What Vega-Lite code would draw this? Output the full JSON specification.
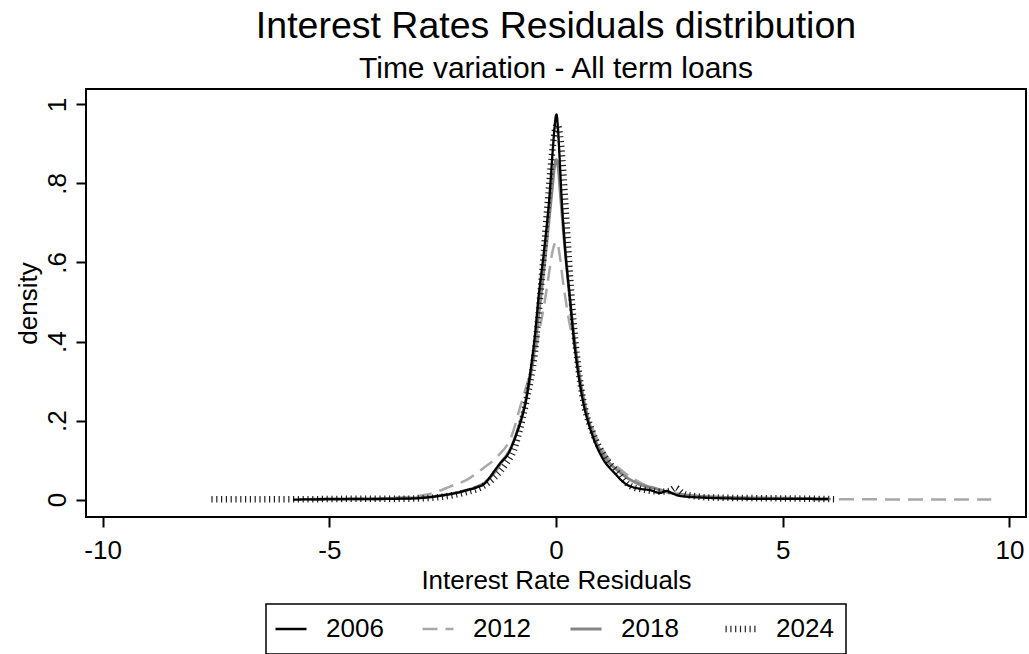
{
  "$schema": "https://vega.github.io/schema/vega-lite/v6.json",
  "width": 940,
  "height": 428,
  "autosize": {"type": "none"},
  "padding": {"left": 86, "top": 89, "right": 3, "bottom": 137},
  "background": "white",
  "title": {
    "text": "Interest Rates Residuals distribution",
    "subtitle": "Time variation - All term loans",
    "anchor": "middle",
    "font": "Liberation Sans",
    "subtitleFont": "Liberation Sans",
    "fontSize": 37.5,
    "subtitleFontSize": 30,
    "fontWeight": "normal",
    "color": "black",
    "subtitleColor": "black",
    "offset": 5,
    "subtitlePadding": 9
  },
  "data": {
    "values": [
      {"year": "2012", "x": -5.6, "d": 0.001},
      {"year": "2012", "x": -4.5, "d": 0.002},
      {"year": "2012", "x": -3.6, "d": 0.004},
      {"year": "2012", "x": -3.15, "d": 0.008},
      {"year": "2012", "x": -2.7, "d": 0.017},
      {"year": "2012", "x": -2.34, "d": 0.033},
      {"year": "2012", "x": -1.94, "d": 0.052},
      {"year": "2012", "x": -1.6, "d": 0.08},
      {"year": "2012", "x": -1.28, "d": 0.11},
      {"year": "2012", "x": -0.96, "d": 0.167},
      {"year": "2012", "x": -0.79, "d": 0.235},
      {"year": "2012", "x": -0.62, "d": 0.3},
      {"year": "2012", "x": -0.5, "d": 0.349},
      {"year": "2012", "x": -0.38, "d": 0.42},
      {"year": "2012", "x": -0.25, "d": 0.5},
      {"year": "2012", "x": -0.17, "d": 0.56},
      {"year": "2012", "x": -0.09, "d": 0.62},
      {"year": "2012", "x": -0.03, "d": 0.647},
      {"year": "2012", "x": 0.02, "d": 0.652},
      {"year": "2012", "x": 0.08, "d": 0.62},
      {"year": "2012", "x": 0.15, "d": 0.555},
      {"year": "2012", "x": 0.22, "d": 0.5},
      {"year": "2012", "x": 0.3, "d": 0.445},
      {"year": "2012", "x": 0.38, "d": 0.404},
      {"year": "2012", "x": 0.6, "d": 0.248},
      {"year": "2012", "x": 0.82, "d": 0.176},
      {"year": "2012", "x": 1.08, "d": 0.117},
      {"year": "2012", "x": 1.49, "d": 0.07},
      {"year": "2012", "x": 1.89, "d": 0.041},
      {"year": "2012", "x": 2.48, "d": 0.019},
      {"year": "2012", "x": 3.0, "d": 0.01},
      {"year": "2012", "x": 3.6, "d": 0.006},
      {"year": "2012", "x": 4.5, "d": 0.003},
      {"year": "2012", "x": 5.5, "d": 0.002},
      {"year": "2012", "x": 6.5, "d": 0.001},
      {"year": "2012", "x": 7.5, "d": 0.0005},
      {"year": "2012", "x": 8.5, "d": 0.0003},
      {"year": "2012", "x": 9.6, "d": 0.0002},

      {"year": "2018", "x": -5.4, "d": 0.001},
      {"year": "2018", "x": -4.5, "d": 0.002},
      {"year": "2018", "x": -3.6, "d": 0.003},
      {"year": "2018", "x": -3.0, "d": 0.005},
      {"year": "2018", "x": -2.5, "d": 0.011},
      {"year": "2018", "x": -2.1, "d": 0.02},
      {"year": "2018", "x": -1.8, "d": 0.03},
      {"year": "2018", "x": -1.55, "d": 0.045},
      {"year": "2018", "x": -1.35, "d": 0.07},
      {"year": "2018", "x": -1.2, "d": 0.095},
      {"year": "2018", "x": -1.0, "d": 0.13},
      {"year": "2018", "x": -0.85, "d": 0.175},
      {"year": "2018", "x": -0.66, "d": 0.255},
      {"year": "2018", "x": -0.5, "d": 0.36},
      {"year": "2018", "x": -0.38, "d": 0.47},
      {"year": "2018", "x": -0.27, "d": 0.58},
      {"year": "2018", "x": -0.17, "d": 0.69},
      {"year": "2018", "x": -0.09, "d": 0.78},
      {"year": "2018", "x": -0.03, "d": 0.845},
      {"year": "2018", "x": 0.01, "d": 0.86},
      {"year": "2018", "x": 0.05, "d": 0.84},
      {"year": "2018", "x": 0.1, "d": 0.77},
      {"year": "2018", "x": 0.18, "d": 0.66},
      {"year": "2018", "x": 0.27, "d": 0.55},
      {"year": "2018", "x": 0.36, "d": 0.45},
      {"year": "2018", "x": 0.47, "d": 0.35},
      {"year": "2018", "x": 0.6, "d": 0.26},
      {"year": "2018", "x": 0.78, "d": 0.176},
      {"year": "2018", "x": 1.02, "d": 0.117},
      {"year": "2018", "x": 1.4, "d": 0.07},
      {"year": "2018", "x": 1.8, "d": 0.041},
      {"year": "2018", "x": 2.2, "d": 0.028},
      {"year": "2018", "x": 2.5, "d": 0.018},
      {"year": "2018", "x": 3.0, "d": 0.01},
      {"year": "2018", "x": 3.6, "d": 0.006},
      {"year": "2018", "x": 4.5, "d": 0.004},
      {"year": "2018", "x": 5.3, "d": 0.003},
      {"year": "2018", "x": 6.0, "d": 0.002},

      {"year": "2024", "x": -7.6, "d": 0.001},
      {"year": "2024", "x": -6.5, "d": 0.001},
      {"year": "2024", "x": -5.5, "d": 0.001},
      {"year": "2024", "x": -4.5, "d": 0.002},
      {"year": "2024", "x": -3.6, "d": 0.002},
      {"year": "2024", "x": -3.0, "d": 0.003},
      {"year": "2024", "x": -2.52, "d": 0.007},
      {"year": "2024", "x": -1.97, "d": 0.019},
      {"year": "2024", "x": -1.64, "d": 0.032},
      {"year": "2024", "x": -1.35, "d": 0.057},
      {"year": "2024", "x": -1.1, "d": 0.091},
      {"year": "2024", "x": -0.93, "d": 0.125},
      {"year": "2024", "x": -0.82, "d": 0.167},
      {"year": "2024", "x": -0.65, "d": 0.252},
      {"year": "2024", "x": -0.46, "d": 0.379},
      {"year": "2024", "x": -0.4, "d": 0.45},
      {"year": "2024", "x": -0.3, "d": 0.58},
      {"year": "2024", "x": -0.19, "d": 0.74},
      {"year": "2024", "x": -0.1, "d": 0.86},
      {"year": "2024", "x": -0.03, "d": 0.93},
      {"year": "2024", "x": 0.03, "d": 0.948},
      {"year": "2024", "x": 0.09, "d": 0.92},
      {"year": "2024", "x": 0.14, "d": 0.86},
      {"year": "2024", "x": 0.2, "d": 0.76},
      {"year": "2024", "x": 0.27, "d": 0.634},
      {"year": "2024", "x": 0.35, "d": 0.5},
      {"year": "2024", "x": 0.49, "d": 0.336},
      {"year": "2024", "x": 0.6, "d": 0.252},
      {"year": "2024", "x": 0.82, "d": 0.167},
      {"year": "2024", "x": 1.08, "d": 0.108},
      {"year": "2024", "x": 1.38, "d": 0.066},
      {"year": "2024", "x": 1.63, "d": 0.035},
      {"year": "2024", "x": 2.0, "d": 0.024},
      {"year": "2024", "x": 2.3, "d": 0.02},
      {"year": "2024", "x": 2.5, "d": 0.022},
      {"year": "2024", "x": 2.63, "d": 0.03},
      {"year": "2024", "x": 2.8, "d": 0.016},
      {"year": "2024", "x": 3.1, "d": 0.008},
      {"year": "2024", "x": 3.5, "d": 0.005},
      {"year": "2024", "x": 4.2, "d": 0.004},
      {"year": "2024", "x": 5.0, "d": 0.003},
      {"year": "2024", "x": 5.7, "d": 0.002},
      {"year": "2024", "x": 6.2, "d": 0.001},

      {"year": "2006", "x": -5.8, "d": 0.0},
      {"year": "2006", "x": -5.0, "d": 0.001},
      {"year": "2006", "x": -4.3, "d": 0.001},
      {"year": "2006", "x": -3.6, "d": 0.002},
      {"year": "2006", "x": -3.15, "d": 0.003},
      {"year": "2006", "x": -2.8, "d": 0.006},
      {"year": "2006", "x": -2.49, "d": 0.011},
      {"year": "2006", "x": -2.2, "d": 0.017},
      {"year": "2006", "x": -1.97, "d": 0.024},
      {"year": "2006", "x": -1.75, "d": 0.031},
      {"year": "2006", "x": -1.57, "d": 0.041},
      {"year": "2006", "x": -1.45, "d": 0.058},
      {"year": "2006", "x": -1.35, "d": 0.074},
      {"year": "2006", "x": -1.24, "d": 0.091},
      {"year": "2006", "x": -1.05, "d": 0.117},
      {"year": "2006", "x": -0.87, "d": 0.167},
      {"year": "2006", "x": -0.76, "d": 0.205},
      {"year": "2006", "x": -0.66, "d": 0.252},
      {"year": "2006", "x": -0.55, "d": 0.336},
      {"year": "2006", "x": -0.46, "d": 0.421},
      {"year": "2006", "x": -0.39, "d": 0.506},
      {"year": "2006", "x": -0.26, "d": 0.634},
      {"year": "2006", "x": -0.15, "d": 0.76},
      {"year": "2006", "x": -0.07, "d": 0.886},
      {"year": "2006", "x": -0.03, "d": 0.945},
      {"year": "2006", "x": 0.01, "d": 0.975},
      {"year": "2006", "x": 0.04, "d": 0.945},
      {"year": "2006", "x": 0.07, "d": 0.886},
      {"year": "2006", "x": 0.125, "d": 0.76},
      {"year": "2006", "x": 0.2, "d": 0.634},
      {"year": "2006", "x": 0.31, "d": 0.506},
      {"year": "2006", "x": 0.38, "d": 0.421},
      {"year": "2006", "x": 0.47, "d": 0.336},
      {"year": "2006", "x": 0.59, "d": 0.252},
      {"year": "2006", "x": 0.79, "d": 0.167},
      {"year": "2006", "x": 1.01, "d": 0.108},
      {"year": "2006", "x": 1.3, "d": 0.066},
      {"year": "2006", "x": 1.52, "d": 0.041},
      {"year": "2006", "x": 1.82, "d": 0.028},
      {"year": "2006", "x": 2.07, "d": 0.024},
      {"year": "2006", "x": 2.3, "d": 0.017},
      {"year": "2006", "x": 2.44, "d": 0.022},
      {"year": "2006", "x": 2.58, "d": 0.015},
      {"year": "2006", "x": 2.74, "d": 0.009},
      {"year": "2006", "x": 3.25, "d": 0.005},
      {"year": "2006", "x": 3.8, "d": 0.003},
      {"year": "2006", "x": 4.5, "d": 0.002},
      {"year": "2006", "x": 5.2, "d": 0.002},
      {"year": "2006", "x": 6.0, "d": 0.001}
    ]
  },
  "mark": {"type": "line", "interpolate": "monotone", "strokeJoin": "round", "strokeCap": "butt"},
  "encoding": {
    "x": {
      "field": "x",
      "type": "quantitative",
      "scale": {"domain": [-10.366, 10.366], "nice": false, "zero": false},
      "axis": {
        "title": "Interest Rate Residuals",
        "values": [-10, -5, 0, 5, 10],
        "labelExpr": "datum.value < 0 ? '-' + format(-datum.value, 'd') : format(datum.value, 'd')",
        "labelBaseline": "alphabetic",
        "labelPadding": 31,
        "titleX": 470,
        "titleY": 71,
        "titleBaseline": "alphabetic",
        "titleAlign": "center"
      }
    },
    "y": {
      "field": "d",
      "type": "quantitative",
      "scale": {"domain": [-0.044, 1.039], "nice": false, "zero": false},
      "axis": {
        "title": "density",
        "values": [0, 0.2, 0.4, 0.6, 0.8, 1],
        "labelExpr": "datum.value == 0 ? '0' : datum.value == 1 ? '1' : '.' + format(datum.value * 10, 'd')",
        "labelAngle": -90,
        "labelAlign": "center",
        "labelBaseline": "alphabetic",
        "labelPadding": 11,
        "titleAngle": -90,
        "titleX": -50,
        "titleY": 214,
        "titleBaseline": "alphabetic",
        "titleAlign": "center"
      }
    },
    "color": {
      "field": "year",
      "type": "nominal",
      "scale": {"domain": ["2006", "2012", "2018", "2024"], "range": ["#000000", "#a8a8a8", "#858585", "#222222"]},
      "legend": {
        "title": null,
        "encode": {
          "symbols": {
            "update": {
              "strokeWidth": {"signal": "datum.value === '2024' ? 6.5 : datum.value === '2018' ? 3 : datum.value === '2012' ? 2.5 : 2.3"}
            }
          }
        }
      }
    },
    "strokeDash": {
      "field": "year",
      "type": "nominal",
      "scale": {"domain": ["2006", "2012", "2018", "2024"], "range": [[1, 0], [15, 8], [1, 0], [1.2, 3.6]]},
      "legend": {"title": null}
    },
    "strokeWidth": {
      "condition": [
        {"test": "datum.year === '2024'", "value": 6.5},
        {"test": "datum.year === '2018'", "value": 3},
        {"test": "datum.year === '2012'", "value": 2.5}
      ],
      "value": 2.3
    }
  },
  "config": {
    "font": "Liberation Sans",
    "view": {"stroke": "black", "strokeWidth": 2},
    "axis": {
      "domain": false,
      "grid": false,
      "ticks": true,
      "tickColor": "black",
      "tickWidth": 2,
      "tickSize": 10,
      "labelFont": "Liberation Sans",
      "labelFontSize": 26,
      "labelColor": "black",
      "titleFont": "Liberation Sans",
      "titleFontSize": 26,
      "titleFontWeight": "normal",
      "titleColor": "black",
      "labelOverlap": false,
      "labelFlush": false
    },
    "legend": {
      "orient": "none",
      "legendX": 180,
      "legendY": 515,
      "direction": "horizontal",
      "strokeColor": "black",
      "strokeWidth": 1.5,
      "padding": 12,
      "symbolType": "stroke",
      "symbolSize": 961,
      "labelFont": "Liberation Sans",
      "labelFontSize": 26,
      "labelColor": "black",
      "labelOffset": 22,
      "columnPadding": 33
    }
  }
}
